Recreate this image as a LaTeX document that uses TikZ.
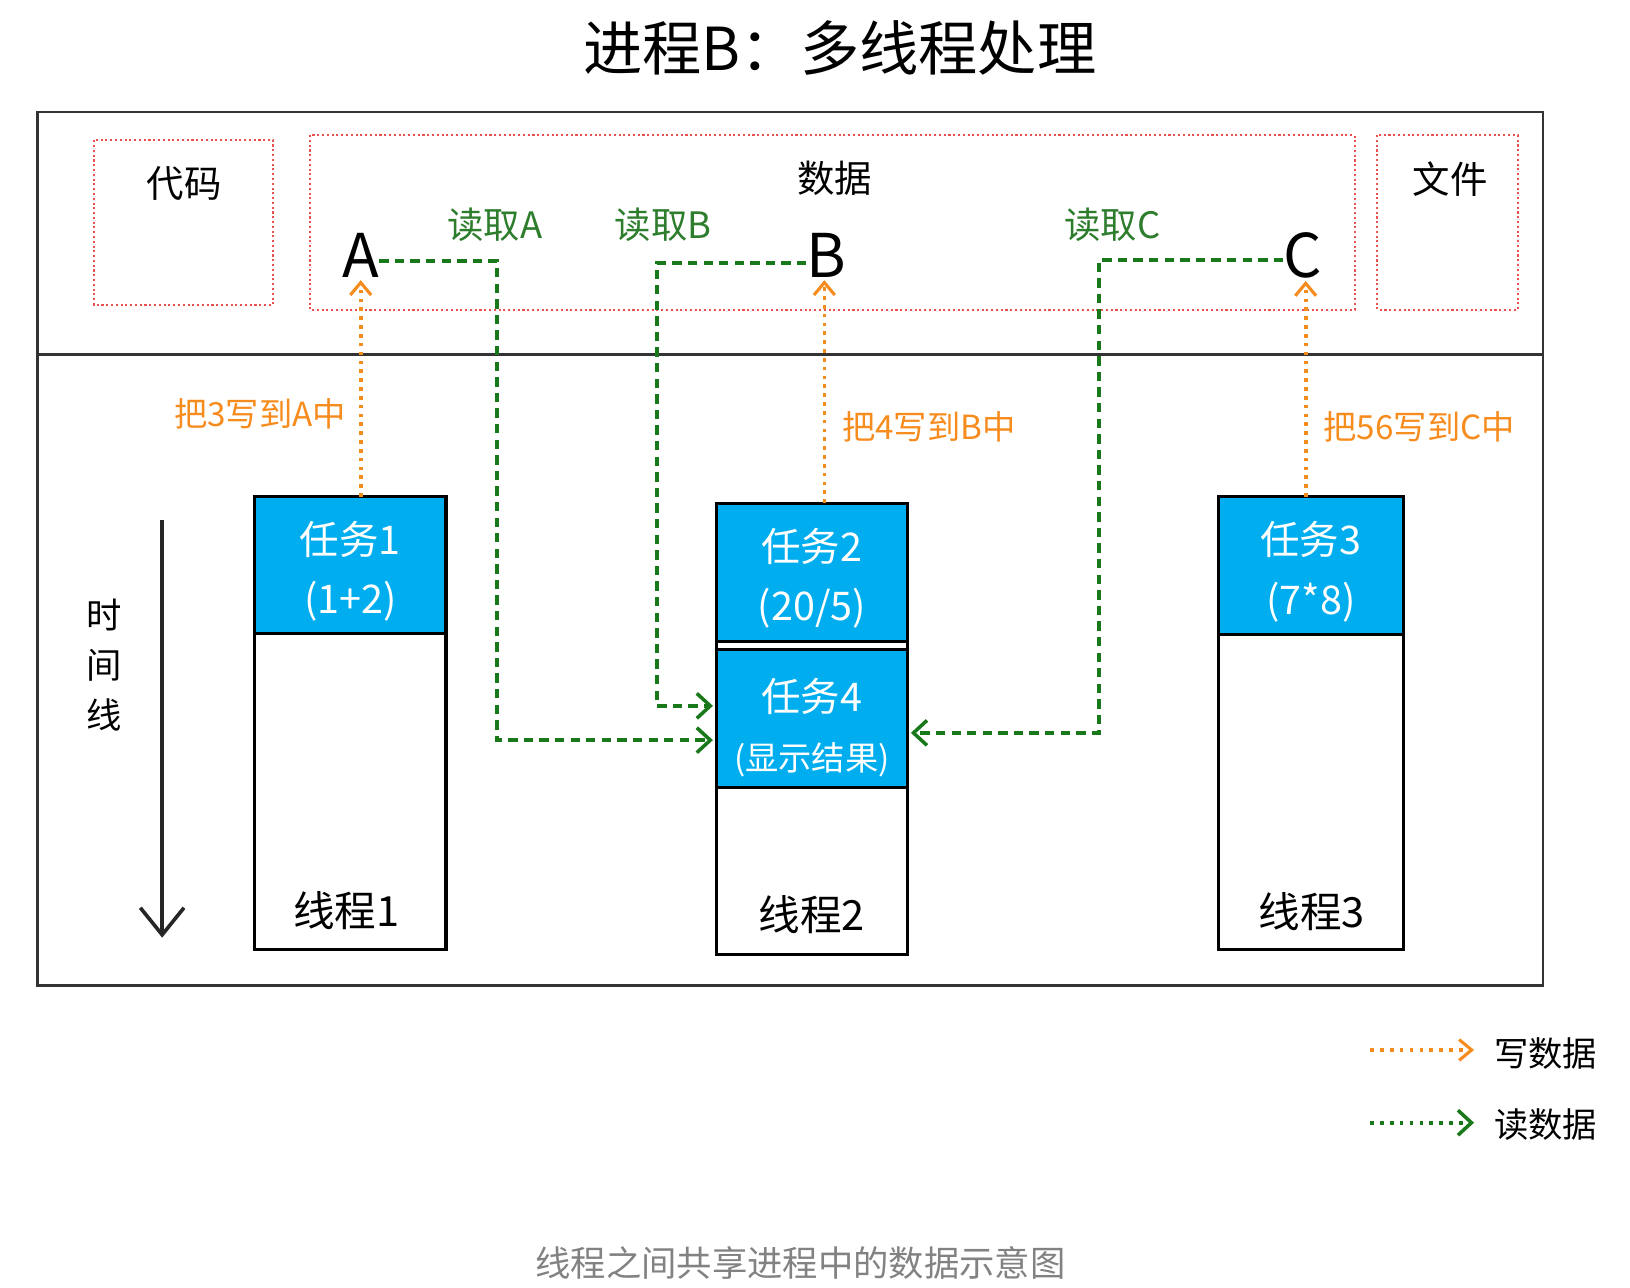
\documentclass[tikz,border=0pt]{standalone}
\usepackage{fontspec}
\setmainfont{Noto Sans CJK SC}
\usetikzlibrary{arrows.meta}
\definecolor{tblue}{RGB}{0,174,239}
\definecolor{torange}{RGB}{247,140,30}
\definecolor{tgreen}{RGB}{25,120,25}
\definecolor{tlgreen}{RGB}{45,125,45}
\definecolor{tred}{RGB}{235,80,80}
\definecolor{tgray}{RGB}{130,130,130}
\newcommand{\fsz}[1]{\fontsize{#1}{#1}\selectfont}
\begin{document}
\begin{tikzpicture}[x=1pt,y=-1pt,
  every node/.style={inner sep=0pt},
  databox/.style={draw=tred, line width=2pt, dash pattern=on 2pt off 2.6pt},
  wr/.style={draw=torange, line width=3.5pt, dash pattern=on 3.5pt off 5pt, -{Straight Barb[length=12pt,width=20pt,line width=3pt]}},
  rd/.style={draw=tgreen, line width=3.6pt, dash pattern=on 9pt off 6pt, -{Straight Barb[length=13pt,width=24pt,line width=3.4pt]}},
  taskbox/.style={fill=tblue},
  tasktext/.style={text=white, align=center, font=\fsz{38}, execute at begin node=\setlength{\baselineskip}{57pt}},
  thread/.style={draw=black, line width=3pt},
  sep/.style={draw=black, line width=3pt},
  wlabel/.style={text=torange, font=\fsz{32}},
  rlabel/.style={text=tlgreen, font=\fsz{35}},
  region/.style={font=\fsz{36}},
  letter/.style={font=\fsz{58}},
  tlabel/.style={font=\fsz{40}}
]
\useasboundingbox (0,0) rectangle (1568,1239);

% title
\node[font=\fsz{57}] (title) at (808,46) {进程B：多线程处理};

% process frame
\draw[line width=2.2pt, draw=black!80] (36,108) rectangle (1484,948);
\draw[line width=2.2pt, draw=black!80] (36,341) -- (1484,341);

% memory regions
\draw[databox] (90,135) rectangle (263,293);
\draw[databox] (298,130) rectangle (1303,298);
\draw[databox] (1325,130) rectangle (1460,298);
\node[region] (code) at (177,177) {代码};
\node[region] (data) at (803,172) {数据};
\node[region] (file) at (1395,172) {文件};

% data letters
\node[letter] (A) at (347,246) {A};
\node[letter] (B) at (795,246) {B};
\node[letter] (C) at (1253,246) {C};

% read labels
\node[rlabel] (rA) at (476,216) {读取A};
\node[rlabel] (rB) at (638,216) {读取B};
\node[rlabel] (rC) at (1070,216) {读取C};

% tasks
\node[taskbox, minimum width=184pt, minimum height=131pt] (t1) at (337,543.5) {};
\node[taskbox, minimum width=184pt, minimum height=133pt] (t2) at (781,550.5) {};
\node[taskbox, minimum width=184pt, minimum height=132pt] (t4) at (781,691) {};
\node[taskbox, minimum width=178pt, minimum height=132pt] (t3) at (1261,544) {};
\node[tasktext] (t1x) at ([yshift=-6pt]t1.center) {任务1\\(1+2)};
\node[tasktext] (t2x) at ([yshift=-6pt]t2.center) {任务2\\(20/5)};
\node[tasktext] (t4x) at ([yshift=-9pt]t4.center) {任务4\\{\fsz{32}(显示结果)}};
\node[tasktext] (t3x) at ([yshift=-6pt]t3.center) {任务3\\(7*8)};

% threads
\node[thread, minimum width=184pt, minimum height=435pt] (th1) at (337,695.5) {};
\node[thread, minimum width=184pt, minimum height=434pt] (th2) at (781,701) {};
\node[thread, minimum width=178pt, minimum height=435pt] (th3) at (1261,695.5) {};
\draw[sep] (t1.south west) -- (t1.south east);
\draw[sep] (t2.south west) -- (t2.south east);
\draw[sep] (t4.north west) -- (t4.north east);
\draw[sep] (t4.south west) -- (t4.south east);
\draw[sep] (t3.south west) -- (t3.south east);
\node[tlabel] (l1) at (333,876) {线程1};
\node[tlabel] (l2) at (781,880) {线程2};
\node[tlabel] (l3) at (1262,877) {线程3};

% write arrows
\draw[wr] (A.south |- t1.north) -- ([yshift=-2pt]A.south);
\draw[wr] ([xshift=-2pt]B.south |- t2.north) -- ([xshift=-2pt,yshift=-2pt]B.south);
\draw[wr] ([xshift=3pt]C.south |- t3.north) -- ([xshift=3pt,yshift=-2pt]C.south);
\node[wlabel, anchor=east] (wA) at (333,398) {把3写到A中};
\node[wlabel, anchor=west] (wB) at (810,411) {把4写到B中};
\node[wlabel, anchor=west] (wC) at (1273,411) {把56写到C中};

% read arrows
\coordinate (gA) at (478,712);
\coordinate (gB) at (632,679);
\coordinate (gC) at (1057,705);
\draw[rd] ([yshift=-5pt]A.east) -| (gA) -- ([xshift=-3pt]gA -| t4.west);
\draw[rd] ([yshift=-7pt]B.west) -| (gB) -- ([xshift=-3pt]gB -| t4.west);
\draw[rd] ([yshift=-4pt]C.west) -| (gC) -- ([xshift=3pt]gC -| t4.east);

% timeline
\coordinate (tl1) at (156,500);
\coordinate (tl2) at (156,902);
\draw[line width=3.5pt, draw=black!85, -{Straight Barb[length=26pt,width=42pt,line width=3.5pt]}] (tl1) -- (tl2);
\node[font=\fsz{34}, align=center, execute at begin node=\setlength{\baselineskip}{48pt}] (tlab) at (100,640) {时\\间\\线};

% legend
\coordinate (lo1) at (1318,1010);
\coordinate (lo2) at (1418,1010);
\coordinate (lg1) at (1318,1080);
\coordinate (lg2) at (1418,1080);
\draw[wr, dash pattern=on 3.5pt off 6pt] (lo1) -- (lo2);
\draw[rd, line width=3.5pt, dash pattern=on 3.5pt off 6pt] (lg1) -- (lg2);
\node[font=\fsz{33}, anchor=west] (lw) at (1437,1013) {写数据};
\node[font=\fsz{33}, anchor=west] (lr) at (1437,1082) {读数据};

% caption
\node[font=\fsz{34}, text=tgray] (cap) at (770,1215) {线程之间共享进程中的数据示意图};
\end{tikzpicture}
\end{document}
